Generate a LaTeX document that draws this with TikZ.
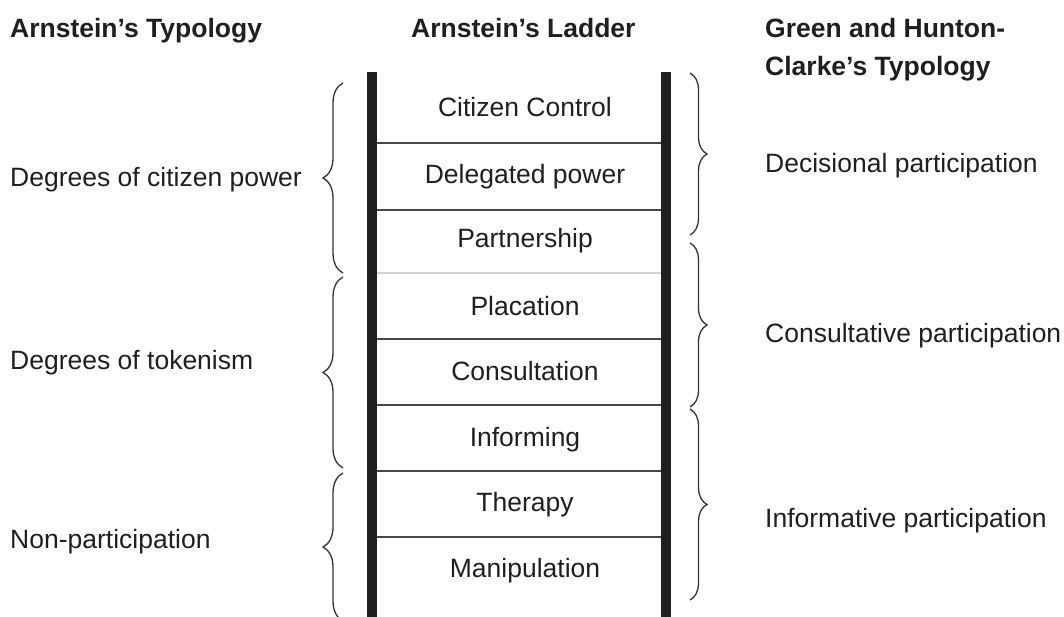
\documentclass[tikz,border=0pt]{standalone}
\usepackage{fontspec}
\setmainfont{Liberation Sans}
\usetikzlibrary{positioning,decorations.pathreplacing}

\begin{document}
\begin{tikzpicture}[
                x=1pt,y=-1pt,
                every node/.append style={inner sep=0pt,text=black!88},
                heading/.style={anchor=base west,font=\bfseries},
                typo/.style={anchor=base west},
                rungtext/.style={anchor=base},
                rail/.style={line width=10pt,draw=black!88},
                rung/.style={line width=2pt,draw=black!72},
                lightrung/.style={line width=2pt,draw=black!18},
                bracel/.style={decorate,decoration={brace,amplitude=20pt},line width=1.3pt,draw=black!80},
                bracer/.style={decorate,decoration={brace,amplitude=17pt},line width=1.3pt,draw=black!80}
            ]
                \fontsize{26.5}{38}\selectfont
                \useasboundingbox (0,0) rectangle (1064,617);
                % headings
                \node (hArn)   [heading] at (10,38)  {Arnstein’s Typology};
                \node (hLad)   [heading] at (411,38) {Arnstein’s Ladder};
                \node (hGreen) [heading] at (765,38) {Green and Hunton-};
                \node (hClark) [heading] at (765,76) {Clarke’s Typology};
                % ladder
                \coordinate (LT) at (372,72);  \coordinate (LB) at (372,620);
                \coordinate (RT) at (666,72);  \coordinate (RB) at (666,620);
                \draw[rail] (LT) -- (LB);
                \draw[rail] (RT) -- (RB);
                \draw[rung] (377,143) -- (661,143);
                \draw[rung] (377,210) -- (661,210);
                \draw[lightrung] (377,273) -- (661,273);
                \draw[rung] (377,339) -- (661,339);
                \draw[rung] (377,405) -- (661,405);
                \draw[rung] (377,471) -- (661,471);
                \draw[rung] (377,537) -- (661,537);
                \node (cc)  [rungtext] at (525,117) {Citizen Control};
                \node (dp)  [rungtext] at (525,184) {Delegated power};
                \node (pa)  [rungtext] at (525,248) {Partnership};
                \node (pl)  [rungtext] at (525,315) {Placation};
                \node (co)  [rungtext] at (525,380) {Consultation};
                \node (inf) [rungtext] at (525,446) {Informing};
                \node (th)  [rungtext] at (525,511) {Therapy};
                \node (ma)  [rungtext] at (525,577) {Manipulation};
                % left braces
                \coordinate (l1b) at (343,273); \coordinate (l1t) at (343,83);
                \coordinate (l2b) at (343,468); \coordinate (l2t) at (343,277);
                \coordinate (l3b) at (343,621); \coordinate (l3t) at (343,473);
                \draw[bracel] (l1b) -- (l1t);
                \draw[bracel] (l2b) -- (l2t);
                \draw[bracel] (l3b) -- (l3t);
                \node (power)  [typo] at (10,187) {Degrees of citizen power};
                \node (token)  [typo] at (10,369) {Degrees of tokenism};
                \node (nonpar) [typo] at (10,548) {Non-participation};
                % right braces
                \coordinate (r1t) at (690,73);  \coordinate (r1b) at (690,235);
                \coordinate (r2t) at (690,243); \coordinate (r2b) at (690,407);
                \coordinate (r3t) at (690,409); \coordinate (r3b) at (690,600);
                \draw[bracer] (r1t) -- (r1b);
                \draw[bracer] (r2t) -- (r2b);
                \draw[bracer] (r3t) -- (r3b);
                \node (decis)  [typo] at (765,173) {Decisional participation};
                \node (consul) [typo] at (765,342) {Consultative participation};
                \node (inform) [typo] at (765,527) {Informative participation};
            \end{tikzpicture}
\end{document}
